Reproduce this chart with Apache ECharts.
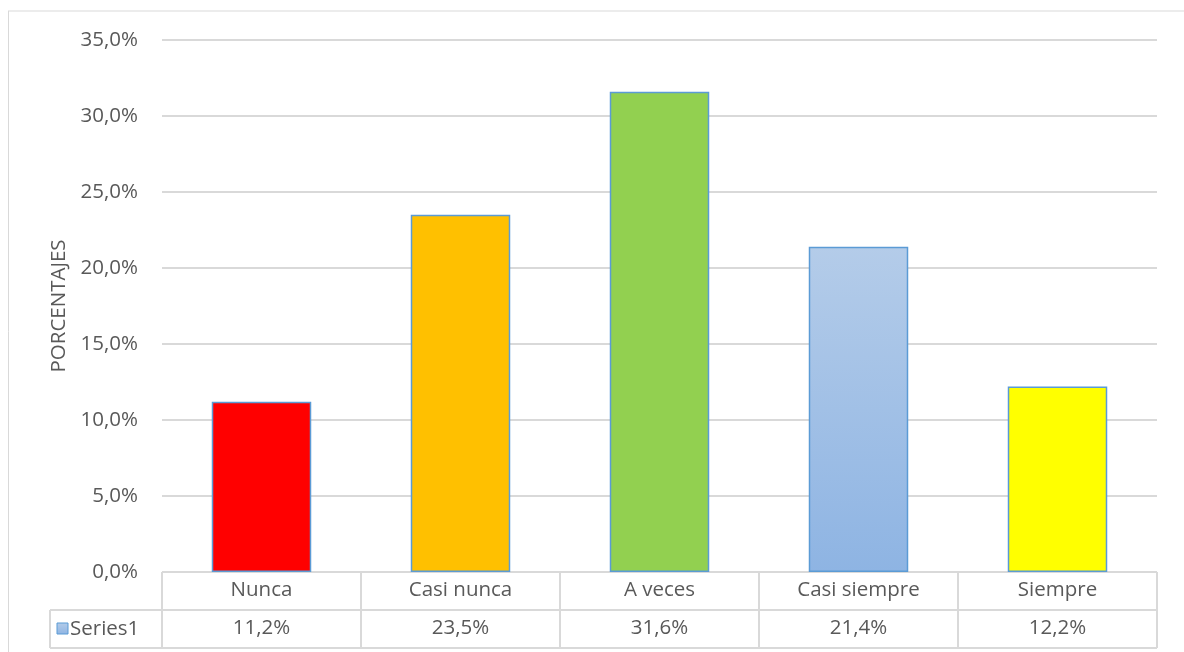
<!DOCTYPE html>
<html>
<head>
<meta charset="utf-8">
<script src="https://cdn.jsdelivr.net/npm/echarts@6/dist/echarts.min.js"></script>
<style>
  html, body { margin: 0; padding: 0; background: #fff; }
  #chart { width: 1184px; height: 652px; }
</style>
</head>
<body>
<div id="chart"></div>
<script>
// Survey answers and their share of responses (percent)
const categories = ['Nunca', 'Casi nunca', 'A veces', 'Casi siempre', 'Siempre'];
const values = [11.2, 23.5, 31.6, 21.4, 12.2];
const seriesName = 'Series1';
const yTicks = { min: 0, max: 35, interval: 5 };

const blueFill = {
  type: 'linear', x: 0, y: 0, x2: 0, y2: 1,
  colorStops: [{ offset: 0, color: '#B4CCE9' }, { offset: 1, color: '#8EB4E3' }]
};
const barColors = ['#FF0000', '#FFC000', '#92D050', blueFill, '#FFFF00'];

const FONT = 'Open Sans';
const FS = 20.5;
const TEXT = '#595959';
const LINE = '#D9D9D9';

// plot area in pixels
const G = { left: 162, right: 27, top: 40, bottom: 80 };
const W = 1184, H = 652;
const plotBottom = H - G.bottom;      // 572
const plotRight = W - G.right;        // 1157
const rowH = 38;
const headLeft = 50;

const fmt = v => v.toFixed(1).replace('.', ',') + '%';

const chart = echarts.init(document.getElementById('chart'), null, { renderer: 'canvas' });

chart.setOption({
  animation: false,
  backgroundColor: '#fff',
  grid: { left: G.left, right: G.right, top: G.top, bottom: G.bottom, containLabel: false },
  xAxis: [
    {
      type: 'category',
      data: categories,
      position: 'bottom',
      axisLine: { show: true, lineStyle: { color: LINE, width: 1 } },
      axisTick: { show: true, length: rowH * 2, lineStyle: { color: LINE, width: 2 } },
      axisLabel: { margin: 8, color: TEXT, fontFamily: FONT, fontSize: FS },
      splitLine: { show: false }
    },
    {
      type: 'category',
      data: values.map(fmt),
      position: 'bottom',
      offset: rowH,
      axisLine: { show: false },
      axisTick: { show: false },
      axisLabel: { margin: 8, color: TEXT, fontFamily: FONT, fontSize: FS },
      splitLine: { show: false }
    }
  ],
  yAxis: {
    type: 'value',
    min: yTicks.min, max: yTicks.max, interval: yTicks.interval,
    name: 'PORCENTAJES',
    nameLocation: 'middle',
    nameGap: 89,
    nameTextStyle: { color: TEXT, fontFamily: FONT, fontSize: FS },
    axisLine: { show: false },
    axisTick: { show: false },
    axisLabel: { margin: 24, color: TEXT, fontFamily: FONT, fontSize: FS, formatter: v => fmt(v) },
    splitLine: { lineStyle: { color: LINE, width: 2 } }
  },
  series: [{
    name: seriesName,
    type: 'bar',
    xAxisIndex: 0,
    barWidth: '50%',
    data: values.map((v, i) => ({
      value: v,
      itemStyle: { color: barColors[i], borderColor: '#5B9BD5', borderWidth: 1.5 }
    }))
  }],
  graphic: [
    // outer chart frame (top and left edges)
    { type: 'line', shape: { x1: 8, y1: 11, x2: W, y2: 11 }, style: { stroke: '#D9D9D9', lineWidth: 1 } },
    { type: 'line', shape: { x1: 8.5, y1: 11, x2: 8.5, y2: H }, style: { stroke: '#D9D9D9', lineWidth: 1 } },
    // data table rules
    { type: 'line', shape: { x1: headLeft, y1: plotBottom + rowH, x2: plotRight, y2: plotBottom + rowH }, style: { stroke: LINE, lineWidth: 2 } },
    { type: 'line', shape: { x1: headLeft, y1: plotBottom + rowH * 2, x2: plotRight, y2: plotBottom + rowH * 2 }, style: { stroke: LINE, lineWidth: 2 } },
    { type: 'line', shape: { x1: headLeft, y1: plotBottom + rowH, x2: headLeft, y2: plotBottom + rowH * 2 }, style: { stroke: LINE, lineWidth: 2 } },
    // legend key in the table header cell
    { type: 'rect', shape: { x: 57, y: 623, width: 11, height: 11 },
      style: { fill: blueFill, stroke: '#5B9BD5', lineWidth: 1 } },
    { type: 'text', x: 70, y: plotBottom + rowH * 1.5,
      style: { text: seriesName, fill: TEXT, font: FS + 'px "' + FONT + '"', verticalAlign: 'middle' } }
  ]
});
</script>
</body>
</html>
